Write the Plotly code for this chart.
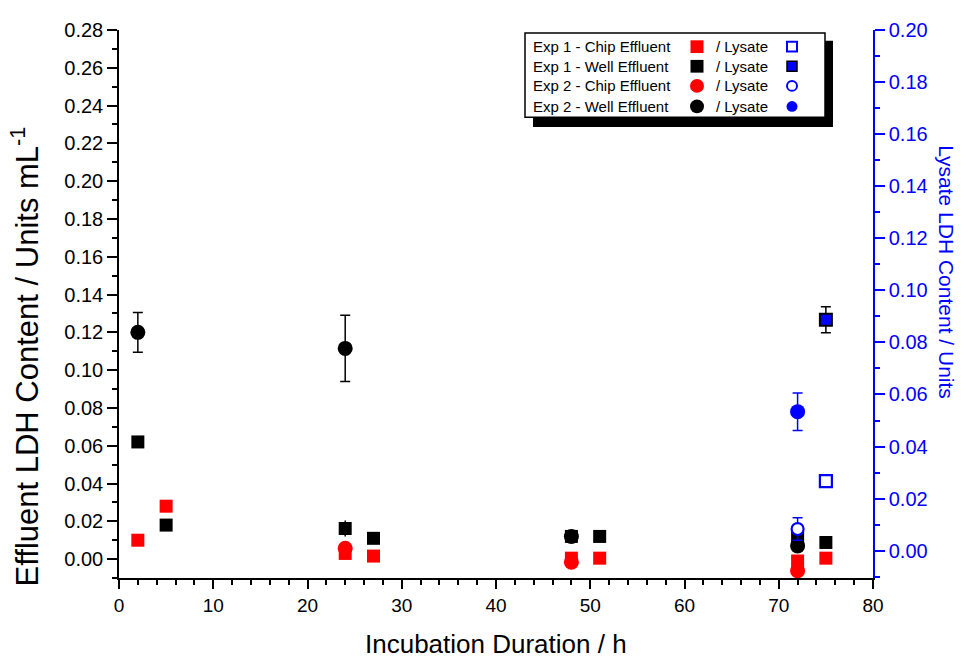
import plotly.graph_objects as go

# ---------------- data ----------------
# Exp 1 - Chip Effluent (left axis)
exp1_chip_x = [2, 5, 24, 27, 48, 51, 72, 75]
exp1_chip_y = [0.010, 0.028, 0.003, 0.0016, 0.0005, 0.0005, -0.001, 0.0005]
# Exp 1 - Well Effluent (left axis)
exp1_well_x = [2, 5, 24, 27, 48, 51, 72, 75]
exp1_well_y = [0.062, 0.018, 0.0162, 0.011, 0.012, 0.012, 0.0112, 0.0088]
exp1_well_err = [0, 0, 0.0042, 0, 0, 0, 0, 0]
# Exp 2 - Chip Effluent (left axis)
exp2_chip_x = [24, 48, 72]
exp2_chip_y = [0.0057, -0.0016, -0.0062]
# Exp 2 - Well Effluent (left axis)
exp2_well_x = [2, 24, 48, 72]
exp2_well_y = [0.120, 0.1115, 0.012, 0.0070]
exp2_well_err = [0.0105, 0.0175, 0, 0]

# Lysate (right axis)
exp1_chip_lys_x = [75]
exp1_chip_lys_y = [0.0267]
exp1_well_lys_x = [75]
exp1_well_lys_y = [0.0887]
exp1_well_lys_err = [0.0050]
exp2_chip_lys_x = [72]
exp2_chip_lys_y = [0.0083]
exp2_chip_lys_err = [0.0043]
exp2_well_lys_x = [72]
exp2_well_lys_y = [0.0534]
exp2_well_lys_err = [0.0072]

legend_labels = ["Exp 1 - Chip Effluent", "Exp 1 - Well Effluent",
                 "Exp 2 - Chip Effluent", "Exp 2 - Well Effluent"]
lysate_label = "/ Lysate"

x_title = "Incubation Duration / h"
y_title = "Effluent LDH Content / Units mL<sup>-1</sup>"
y2_title = "Lysate LDH Content / Units"

FONT = "Liberation Sans, Arial, sans-serif"
RED = "#ff0000"
BLUE = "#0000ff"
BLACK = "#000000"

# page is rendered with an 8px body margin: size the figure to fit the window
OFF = 8
W, H = 968 - OFF, 659 - OFF
# plot area in page pixels: x 119..873, y 19..578
PL, PR, PT, PB = 119, 873, 19, 578
ML, MR, MT, MB = PL - OFF, W - (PR - OFF), PT - OFF, H - (PB - OFF)
PW, PH = PR - PL, PB - PT


def px(x):
    return (x - PL) / PW


def py(y):
    return (PB - y) / PH


fig = go.Figure()

fig.add_trace(go.Scatter(
    x=exp1_chip_x, y=exp1_chip_y, mode="markers", name=legend_labels[0],
    marker=dict(symbol="square", size=13, color=RED, line=dict(width=0))))
fig.add_trace(go.Scatter(
    x=exp1_well_x, y=exp1_well_y, mode="markers", name=legend_labels[1],
    marker=dict(symbol="square", size=13, color=BLACK, line=dict(width=0)),
    error_y=dict(type="data", array=exp1_well_err, color=BLACK, thickness=1.5, width=0)))
fig.add_trace(go.Scatter(
    x=exp2_chip_x, y=exp2_chip_y, mode="markers", name=legend_labels[2],
    marker=dict(symbol="circle", size=15, color=RED, line=dict(width=0))))
fig.add_trace(go.Scatter(
    x=exp2_well_x, y=exp2_well_y, mode="markers", name=legend_labels[3],
    marker=dict(symbol="circle", size=15, color=BLACK, line=dict(width=0)),
    error_y=dict(type="data", array=exp2_well_err, color=BLACK, thickness=1.5, width=5)))

# lysate on right axis
fig.add_trace(go.Scatter(
    x=exp1_chip_lys_x, y=exp1_chip_lys_y, mode="markers", yaxis="y2",
    name=legend_labels[0] + " " + lysate_label,
    marker=dict(symbol="square-open", size=12, color=BLUE, line=dict(width=2.2, color=BLUE))))
fig.add_trace(go.Scatter(
    x=exp1_well_lys_x, y=exp1_well_lys_y, mode="markers", yaxis="y2",
    name=legend_labels[1] + " " + lysate_label,
    marker=dict(symbol="square", size=12, color=BLUE, line=dict(width=2, color=BLACK)),
    error_y=dict(type="data", array=exp1_well_lys_err, color=BLACK, thickness=1.5, width=5)))
fig.add_trace(go.Scatter(
    x=exp2_chip_lys_x, y=exp2_chip_lys_y, mode="markers", yaxis="y2",
    name=legend_labels[2] + " " + lysate_label,
    marker=dict(symbol="circle", size=12, color="white", line=dict(width=2.2, color=BLUE)),
    error_y=dict(type="data", array=exp2_chip_lys_err, color=BLUE, thickness=1.5, width=5)))
fig.add_trace(go.Scatter(
    x=exp2_well_lys_x, y=exp2_well_lys_y, mode="markers", yaxis="y2",
    name=legend_labels[3] + " " + lysate_label,
    marker=dict(symbol="circle", size=15, color=BLUE, line=dict(width=0)),
    error_y=dict(type="data", array=exp2_well_lys_err, color=BLUE, thickness=1.5, width=5)))

# ---------------- custom legend ----------------
shapes = []
annotations = []
shapes.append(dict(type="rect", xref="paper", yref="paper",
                   x0=px(533), x1=px(833), y0=py(118), y1=py(30),
                   fillcolor=BLACK, line=dict(width=0), layer="above"))
shapes.append(dict(type="rect", xref="paper", yref="paper",
                   x0=px(525), x1=px(825), y0=py(108), y1=py(22),
                   fillcolor="white", line=dict(width=1.5, color=BLACK), layer="above"))

row_y = [36, 56, 76, 97]
eff_style = [("rect", RED, RED, 0, 13), ("rect", BLACK, BLACK, 0, 13),
             ("circle", RED, RED, 0, 14), ("circle", BLACK, BLACK, 0, 14)]
lys_style = [("rect", "white", BLUE, 2, 10), ("rect", BLUE, BLACK, 1.5, 10),
             ("circle", "white", BLUE, 2, 10), ("circle", BLUE, BLUE, 0, 11)]


def sym(kind, fill, line_col, lw, size, cx, cy):
    h = size / 2
    return dict(type=kind, xref="paper", yref="paper",
                x0=px(cx - h), x1=px(cx + h), y0=py(cy + h), y1=py(cy - h),
                fillcolor=fill, line=dict(width=lw, color=line_col), layer="above")


for i, lab in enumerate(legend_labels):
    yc = row_y[i]
    annotations.append(dict(xref="paper", yref="paper", x=px(531), y=py(yc),
                            text=lab, showarrow=False, xanchor="left", yanchor="middle",
                            font=dict(family=FONT, size=15, color=BLACK)))
    annotations.append(dict(xref="paper", yref="paper", x=px(714), y=py(yc),
                            text=lysate_label, showarrow=False, xanchor="left", yanchor="middle",
                            font=dict(family=FONT, size=15, color=BLACK)))
    k, f, lc, lw, s = eff_style[i]
    shapes.append(sym(k, f, lc, lw, s, 697, yc))
    k, f, lc, lw, s = lys_style[i]
    shapes.append(sym(k, f, lc, lw, s, 792, yc))

# axis titles
annotations.append(dict(xref="paper", yref="paper", x=px(496), y=py(645),
                        text=x_title, showarrow=False, xanchor="center", yanchor="middle",
                        font=dict(family=FONT, size=26, color=BLACK)))
annotations.append(dict(xref="paper", yref="paper", x=px(25), y=py(352),
                        text=y_title, showarrow=False, textangle=-90,
                        xanchor="center", yanchor="middle",
                        font=dict(family=FONT, size=31, color=BLACK)))
annotations.append(dict(xref="paper", yref="paper", x=px(947), y=py(266),
                        text=y2_title, showarrow=False, textangle=90,
                        xanchor="center", yanchor="middle",
                        font=dict(family=FONT, size=21, color=BLUE)))

fig.update_layout(
    width=W, height=H,
    margin=dict(l=ML, r=MR, t=MT, b=MB, pad=0),
    paper_bgcolor="white", plot_bgcolor="white",
    showlegend=False,
    font=dict(family=FONT, color=BLACK),
    shapes=shapes, annotations=annotations,
    xaxis=dict(range=[0, 80], dtick=10, tick0=0, showgrid=False, zeroline=False,
               showline=True, linecolor=BLACK, linewidth=1.5,
               ticks="outside", ticklen=9, tickwidth=1.5, tickcolor=BLACK,
               minor=dict(dtick=2, ticks="outside", ticklen=5, tickwidth=1.5, tickcolor=BLACK),
               tickfont=dict(family=FONT, size=19, color=BLACK)),
    yaxis=dict(range=[-0.0100, 0.28], dtick=0.02, tick0=0, tickformat=".2f",
               showgrid=False, zeroline=False,
               showline=True, linecolor=BLACK, linewidth=1.5,
               ticks="outside", ticklen=10, tickwidth=1.5, tickcolor=BLACK,
               minor=dict(dtick=0.01, ticks="outside", ticklen=5, tickwidth=1.5, tickcolor=BLACK),
               tickfont=dict(family=FONT, size=20, color=BLACK)),
    yaxis2=dict(range=[-0.0105, 0.20], dtick=0.02, tick0=0, tickformat=".2f",
                overlaying="y", side="right", showgrid=False, zeroline=False,
                showline=True, linecolor=BLUE, linewidth=1.5,
                ticks="outside", ticklen=10, tickwidth=1.5, tickcolor=BLUE,
                minor=dict(dtick=0.01, ticks="outside", ticklen=5, tickwidth=1.5, tickcolor=BLUE),
                tickfont=dict(family=FONT, size=20, color=BLUE)),
)

fig.write_html("out.html")
